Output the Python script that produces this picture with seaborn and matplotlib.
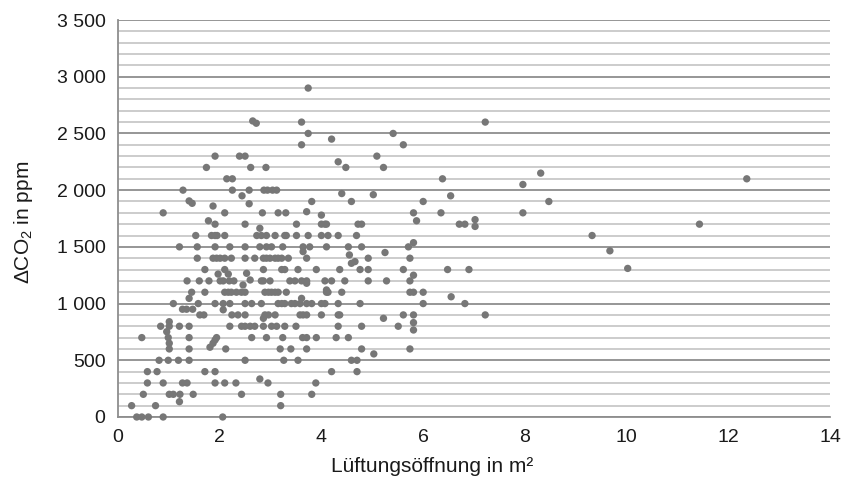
import matplotlib
matplotlib.use("Agg")
import matplotlib.pyplot as plt
from matplotlib.ticker import MultipleLocator, FuncFormatter
import numpy as np
import pandas as pd
import seaborn as sns

# Measurements: ventilation opening area (m²) and CO2 rise (ppm), grouped by CO2 level
x_2600_2900 = [2.65, 2.72, 3.74, 3.61, 7.22]
y_2600_2900 = [2610, 2590, 2900, 2600, 2600]

x_2200_2500 = [1.91, 2.39, 2.50, 1.74, 2.61, 2.91, 3.74, 4.20, 3.61, 5.41, 5.61,
               5.09, 4.33, 4.48, 5.22]
y_2200_2500 = [2300, 2300, 2300, 2200, 2200, 2200, 2500, 2450, 2400, 2500, 2400,
               2300, 2250, 2200, 2200]

x_1800_2150 = [2.14, 2.25, 1.28, 2.25, 2.44, 2.58, 2.87, 2.94, 1.40, 1.46, 1.87,
               2.58, 0.89, 2.10, 2.84, 3.04, 3.12, 4.40, 5.02, 3.81, 4.59, 3.15,
               3.30, 3.71, 4.00, 5.81, 6.38, 6.54, 6.00, 6.35, 7.96, 8.31, 8.47,
               7.96, 12.36]
y_1800_2150 = [2100, 2100, 2000, 2000, 1950, 2000, 2000, 2000, 1905, 1884, 1860,
               1880, 1800, 1800, 1800, 2000, 2000, 1970, 1960, 1900, 1900, 1800,
               1800, 1810, 1780, 1800, 2100, 1950, 1900, 1800, 2050, 2150, 1900,
               1800, 2100]

x_1600_1750 = [1.78, 1.91, 2.50, 2.79, 1.53, 1.84, 1.91, 1.95, 2.10, 2.73, 2.82,
               2.92, 5.87, 3.51, 4.00, 4.07, 4.10, 4.72, 4.79, 3.09, 3.28, 3.31,
               3.51, 3.74, 4.00, 4.13, 4.33, 4.69, 6.71, 6.82, 7.02, 7.02, 11.43,
               9.32]
y_1600_1750 = [1730, 1700, 1700, 1664, 1600, 1600, 1600, 1600, 1600, 1600, 1600,
               1600, 1730, 1700, 1700, 1700, 1700, 1700, 1700, 1600, 1600, 1600,
               1600, 1600, 1600, 1600, 1600, 1600, 1700, 1700, 1740, 1680, 1700,
               1600]

x_1300_1550 = [1.21, 1.56, 1.91, 2.20, 2.50, 2.79, 2.92,
               3.02, 3.24, 3.64, 3.77, 4.10, 4.53, 4.79, 5.71, 5.81,
               3.64, 4.55, 4.59, 4.66, 5.25, 9.67, 10.02,
               1.56, 1.87, 1.94, 2.01, 2.10, 2.23, 2.50, 2.69, 2.86, 2.92,
               2.99, 3.09, 3.15, 3.22, 3.35, 3.71, 4.92, 5.74,
               1.71, 2.10, 2.86, 3.22, 3.28, 3.54, 3.90, 4.36, 4.76, 4.92, 5.61,
               6.48, 6.90]
y_1300_1550 = [1500, 1500, 1500, 1500, 1500, 1500, 1500,
               1500, 1500, 1500, 1500, 1500, 1500, 1500, 1500, 1537,
               1458, 1429, 1355, 1370, 1450, 1465, 1310,
               1400, 1400, 1400, 1400, 1400, 1400, 1400, 1400, 1400, 1400,
               1400, 1400, 1400, 1400, 1400, 1400, 1400, 1400,
               1300, 1300, 1300, 1300, 1300, 1300, 1300, 1300, 1300, 1300, 1300,
               1300, 1300]

x_1000_1270 = [1.97, 2.17, 2.53, 2.60, 2.46, 5.81,
               1.36, 1.60, 1.79, 2.01, 2.07, 2.19, 2.28, 2.82, 2.86,
               2.99, 3.38, 3.48, 3.61, 3.71, 4.07, 4.20, 4.46, 4.92, 5.28, 5.74, 3.71,
               1.45, 1.71, 2.10, 2.17, 2.23, 2.33, 2.43, 2.50,
               2.89, 2.96, 3.02, 3.09, 3.15, 3.31, 4.10, 4.13, 4.40, 5.74, 5.81, 4.10,
               6.00, 6.55, 1.40, 3.61,
               1.09, 1.58, 1.91, 2.07, 2.20, 2.50, 2.63, 2.82,
               3.15, 3.22, 3.28, 3.41, 3.48, 3.58, 3.71, 3.81, 4.00, 4.07, 4.33, 4.76,
               6.00, 6.82]
y_1000_1270 = [1260, 1260, 1267, 1208, 1164, 1250,
               1200, 1200, 1200, 1200, 1200, 1200, 1200, 1200, 1200,
               1200, 1200, 1200, 1200, 1200, 1200, 1200, 1200, 1200, 1200, 1200, 1179,
               1100, 1100, 1100, 1100, 1100, 1100, 1100, 1100,
               1100, 1100, 1100, 1100, 1100, 1100, 1100, 1100, 1100, 1100, 1100, 1120,
               1100, 1060, 1046, 1046,
               1000, 1000, 1000, 1000, 1000, 1000, 1000, 1000,
               1000, 1000, 1000, 1000, 1000, 1000, 1000, 1000, 1000, 1000, 1000, 1000,
               1000, 1000]

x_600_950 = [1.27, 1.35, 1.47, 2.07,
             1.61, 1.69, 2.24, 2.36, 2.50, 2.89, 2.96,
             3.09, 3.58, 3.64, 3.71, 4.00, 4.33, 4.36, 5.61, 5.81, 7.22,
             2.86, 5.22, 5.81, 5.81,
             0.84, 1.01, 1.21, 1.40, 2.20, 2.43, 2.50, 2.60, 2.69, 2.86,
             3.02, 3.12, 3.28, 3.50, 4.33, 4.79, 5.51, 1.01, 0.96,
             0.47, 0.99, 1.40, 1.94, 2.63, 2.92,
             3.24, 3.63, 3.71, 3.90, 4.29, 4.53, 1.91, 1.87, 1.81,
             1.01, 1.40, 2.12, 3.19, 3.40, 3.71, 4.79, 5.74, 1.01]
y_600_950 = [950, 950, 950, 945,
             900, 900, 900, 900, 900, 900, 900,
             900, 900, 900, 900, 900, 900, 900, 900, 900, 900,
             870, 870, 832, 767,
             800, 800, 800, 800, 800, 800, 800, 800, 800, 800,
             800, 800, 800, 800, 800, 800, 800, 840, 752,
             700, 700, 700, 700, 700, 700,
             700, 700, 700, 700, 700, 700, 679, 650, 615,
             600, 600, 600, 600, 600, 600, 600, 600, 650]

x_0_560 = [5.03,
           0.81, 0.99, 1.19, 1.40, 2.50, 3.26, 3.54, 4.59, 4.70,
           0.58, 0.77, 1.71, 1.91, 4.20, 4.70,
           0.58, 0.89, 1.27, 1.36, 1.91, 2.10, 2.32, 2.79, 2.95, 3.89,
           0.50, 1.01, 1.09, 1.22, 1.48, 2.43, 3.20, 3.81, 1.21,
           0.27, 0.74, 3.20,
           0.37, 0.47, 0.60, 0.89, 2.06]
y_0_560 = [556,
           500, 500, 500, 500, 500, 500, 500, 500, 500,
           400, 400, 400, 400, 400, 400,
           300, 300, 300, 300, 300, 300, 300, 335, 300, 300,
           200, 200, 200, 200, 200, 200, 200, 200, 135,
           100, 100, 100,
           0, 0, 0, 0, 0]

x_ticks = [0, 2, 4, 6, 8, 10, 12, 14]
y_ticks = [0, 500, 1000, 1500, 2000, 2500, 3000, 3500]

area = (x_2600_2900 + x_2200_2500 + x_1800_2150 + x_1600_1750 +
        x_1300_1550 + x_1000_1270 + x_600_950 + x_0_560)
delta_co2 = (y_2600_2900 + y_2200_2500 + y_1800_2150 + y_1600_1750 +
             y_1300_1550 + y_1000_1270 + y_600_950 + y_0_560)
df = pd.DataFrame({"area": area, "delta_co2": delta_co2})

sns.set_style("white")
plt.rcParams["font.family"] = ["Liberation Sans", "DejaVu Sans"]
plt.rcParams["mathtext.default"] = "regular"

fig = plt.figure(figsize=(8.42, 4.88), dpi=100)
ax = fig.add_axes([0.140, 0.1455, 0.846, 0.8135])

# horizontal grid: fine lines every 100 ppm, stronger ones every 500 ppm
ax.yaxis.set_minor_locator(MultipleLocator(100))
ax.yaxis.set_major_locator(MultipleLocator(500))
ax.grid(axis="y", which="minor", color="#c8c8c8", linewidth=1.3, zorder=0)
ax.grid(axis="y", which="major", color="#8e8e8e", linewidth=1.3, zorder=0)
ax.grid(axis="x", visible=False)
ax.set_axisbelow(True)

sns.scatterplot(data=df, x="area", y="delta_co2", ax=ax, color="#777777",
                marker="o", s=28, edgecolor="none", linewidth=0, zorder=3,
                clip_on=False)

ax.set_xlim(0, 14)
ax.set_ylim(0, 3500)
ax.set_xticks(x_ticks)
ax.set_yticks(y_ticks)
ax.yaxis.set_major_formatter(FuncFormatter(lambda v, p: f"{int(v):,}".replace(",", " ")))
ax.xaxis.set_major_formatter(FuncFormatter(lambda v, p: f"{int(v)}"))

for side in ["top", "right"]:
    ax.spines[side].set_visible(False)
for side in ["left", "bottom"]:
    ax.spines[side].set_color("#8e8e8e")
    ax.spines[side].set_linewidth(1.3)

ax.tick_params(axis="both", which="major", direction="out", length=5, width=1.2,
               color="#8e8e8e", labelsize=14, labelcolor="#1a1a1a", pad=4)
ax.tick_params(axis="y", which="minor", length=0)

ax.set_xlabel("Lüftungsöffnung in m²", fontsize=15, color="#1a1a1a")
ax.xaxis.set_label_coords((432 - 118) / 712, -0.10)
ax.set_ylabel("ΔCO$_2$ in ppm", fontsize=15, color="#1a1a1a")
ax.yaxis.set_label_coords(-0.116, 0.49)

fig.savefig("out.png", dpi=100)
